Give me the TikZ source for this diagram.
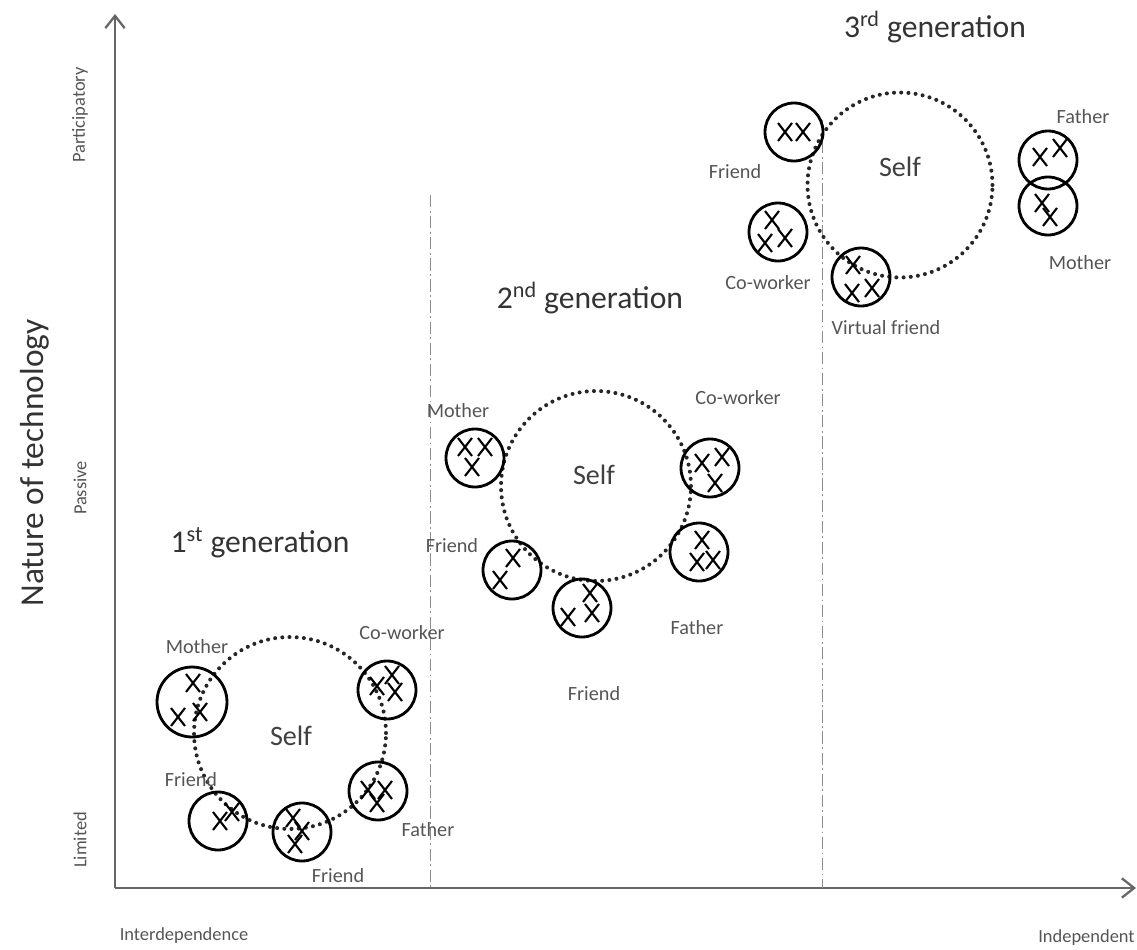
\documentclass[tikz,border=0pt]{standalone}
\usepackage{fontspec}
\setmainfont{Carlito}
\usepackage{tikz}
\usetikzlibrary{shapes,positioning,arrows.meta}
\definecolor{labelgray}{HTML}{555555}
\tikzstyle{person} = [draw=black, line width=1.6pt, circle,
    minimum size=1.16cm, inner sep=0pt]
\tikzstyle{selfring} = [draw=black!85, line width=2.3pt, circle, inner sep=0pt,
    line cap=round, dash pattern=on 0pt off 4.1pt]
\tikzstyle{who} = [text=labelgray, font=\fontsize{11.5}{13}\selectfont, inner sep=0pt]
\tikzstyle{selftext} = [text=black!75, font=\fontsize{16}{18}\selectfont, inner sep=0pt]
\tikzstyle{gentitle} = [text=black!80, font=\fontsize{18}{21}\selectfont, inner sep=0pt]
\tikzstyle{axislabel} = [text=labelgray, font=\fontsize{10.5}{12}\selectfont, inner sep=0pt]
\tikzstyle{axis} = [draw=black!60, line width=1.3pt,
    -{Straight Barb[length=7pt,width=11pt]}]
\tikzstyle{divider} = [draw=black!45, line width=0.5pt,
    dash pattern=on 7pt off 2pt on 1pt off 2pt]
\newcommand{\personx}[2]{\draw[line width=1.2pt] (#1-7,#2-9) -- (#1+7,#2+9) (#1+7,#2-9) -- (#1-7,#2+9);}

\begin{document}
\begin{tikzpicture}[x=0.02cm, y=-0.02cm]
\useasboundingbox (0,0) rectangle (1137,950);

% axes
\coordinate (origin) at (115,888);
\coordinate (ytip) at (115,14);
\coordinate (xtip) at (1136,888);
\draw [axis] (origin) -- (ytip);
\draw [axis] (origin) -- (xtip);

\node[axislabel, rotate=90] (participatory) at (80,115) {Participatory};
\node[axislabel, rotate=90] (passive) at (80,488) {Passive};
\node[axislabel, rotate=90] (limited) at (80,840) {Limited};
\node[text=black!80, font=\fontsize{19}{22}\selectfont, rotate=90, inner sep=0pt]
    (nature) at (35,463) {Nature of technology};
\node[axislabel] (interdep) at (184,936) {Interdependence};
\node[axislabel, anchor=east] (indep) at (1135,938) {Independent};

% generation borders
\coordinate (div1top) at (430,195);
\coordinate (div1bot) at (430,888);
\coordinate (div2top) at (822,120);
\coordinate (div2bot) at (822,888);
\draw [divider] (div1top) -- (div1bot);
\draw [divider] (div2top) -- (div2bot);

% 1st generation
\node[gentitle] (gen1) at (260,543) {1\textsuperscript{st} generation};
\node[selfring, minimum size=3.84cm] (self1) at (290,733) {};
\node[selftext] (self1txt) at (291,736) {Self};

\node[person, minimum size=1.4cm] (mother1) at (192,702) {};
\personx{193}{683} \personx{178}{717} \personx{200}{712}
\node[who] (mother1txt) at (197,647) {Mother};

\node[person] (cowork1) at (387,690) {};
\personx{377}{686} \personx{392}{675} \personx{395}{692}
\node[who] (cowork1txt) at (402,633) {Co-worker};

\node[person] (father1) at (378,791) {};
\personx{368}{790} \personx{385}{790} \personx{377}{803}
\node[who] (father1txt) at (428,830) {Father};

\node[person] (friendb1) at (302,832) {};
\personx{293}{818} \personx{302}{831} \personx{295}{844}
\node[who] (friendb1txt) at (338,876) {Friend};

\node[person] (friendl1) at (218,821) {};
\personx{220}{821} \personx{232}{812}
\node[who] (friendl1txt) at (191,780) {Friend};

% 2nd generation
\node[gentitle] (gen2) at (590,298) {2\textsuperscript{nd} generation};
\node[selfring, minimum size=3.8cm] (self2) at (596,486) {};
\node[selftext] (self2txt) at (594,475) {Self};

\node[person] (mother2) at (475,458) {};
\personx{465}{447} \personx{485}{447} \personx{472}{467}
\node[who] (mother2txt) at (458,411) {Mother};

\node[person] (cowork2) at (710,468) {};
\personx{702}{463} \personx{722}{457} \personx{715}{483}
\node[who] (cowork2txt) at (738,398) {Co-worker};

\node[person] (father2) at (699,552) {};
\personx{702}{540} \personx{697}{562} \personx{713}{560}
\node[who] (father2txt) at (697,628) {Father};

\node[person] (friendb2) at (582,608) {};
\personx{590}{593} \personx{568}{617} \personx{592}{613}
\node[who] (friendb2txt) at (594,694) {Friend};

\node[person] (friendl2) at (512,570) {};
\personx{513}{558} \personx{500}{580}
\node[who] (friendl2txt) at (452,546) {Friend};

% 3rd generation
\node[gentitle] (gen3) at (935,27) {3\textsuperscript{rd} generation};
\node[selfring, minimum size=3.7cm] (self3) at (900,185) {};
\node[selftext] (self3txt) at (900,167) {Self};

\node[person] (friend3) at (794,132) {};
\personx{785}{132} \personx{803}{132}
\node[who] (friend3txt) at (735,172) {Friend};

\node[person] (cowork3) at (778,232) {};
\personx{772}{220} \personx{765}{243} \personx{785}{238}
\node[who] (cowork3txt) at (768,283) {Co-worker};

\node[person] (virtual3) at (861,277) {};
\personx{853}{265} \personx{852}{293} \personx{872}{288}
\node[who] (virtual3txt) at (886,328) {Virtual friend};

\node[person] (father3) at (1048,160) {};
\personx{1040}{157} \personx{1060}{148}
\node[who] (father3txt) at (1083,117) {Father};

\node[person] (mother3) at (1048,206) {};
\personx{1042}{203} \personx{1050}{217}
\node[who] (mother3txt) at (1080,263) {Mother};

\end{tikzpicture}
\end{document}
